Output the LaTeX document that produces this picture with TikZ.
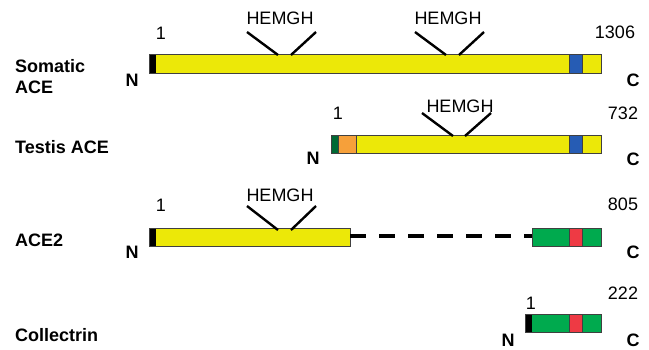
\documentclass[tikz,border=0pt]{standalone}
\usepackage{fontspec}
\setmainfont{Liberation Sans}
\begin{document}
\begin{tikzpicture}[x=1pt,y=-1pt,
  seg/.style={draw=black!75,line width=0.9pt},
  motif/.style={line width=2.4pt,black},
  txt/.style={inner sep=0pt,font=\fontsize{18}{21}\selectfont},
  lbl/.style={inner sep=0pt,font=\fontsize{18}{21}\selectfont\bfseries,align=left,anchor=west},
  term/.style={inner sep=0pt,font=\fontsize{18}{21}\selectfont\bfseries}]
\definecolor{bodyyellow}{RGB}{236,232,8}
\definecolor{tmblue}{RGB}{38,92,180}
\definecolor{domgreen}{RGB}{0,170,78}
\definecolor{domred}{RGB}{238,58,68}
\definecolor{sigorange}{RGB}{246,160,58}
\definecolor{sigdkgreen}{RGB}{0,105,52}
\useasboundingbox (0,0) rectangle (649,349);

% ---- Somatic ACE ----
\node[lbl] (somname) at (15,77) {Somatic\\ACE};
\fill[bodyyellow] (149,54) rectangle (601,73);
\fill[black] (149,54) rectangle (156,73);
\fill[tmblue] (569,54) rectangle (582,73);
\draw[seg] (569,54) -- (569,73) (582,54) -- (582,73);
\draw[seg] (149,54) rectangle (601,73);
\draw[motif] (247,32) -- (278,55) (291,55) -- (316,32);
\draw[motif] (415,32) -- (446,55) (459,55) -- (484,32);
\node[txt] (som1) at (280,18) {HEMGH};
\node[txt] (som2) at (448,18) {HEMGH};
\node[txt] (somstart) at (161,33) {1};
\node[txt] (somend) at (615,32) {1306};
\node[term] (somN) at (132,80) {N};
\node[term] (somC) at (633,80) {C};

% ---- Testis ACE ----
\node[lbl] (tesname) at (15,147) {Testis ACE};
\fill[bodyyellow] (331,135) rectangle (601,153);
\fill[sigdkgreen] (331,135) rectangle (338,153);
\fill[sigorange] (338,135) rectangle (356,153);
\fill[tmblue] (569,135) rectangle (582,153);
\draw[seg] (338,135) -- (338,153) (356,135) -- (356,153)
           (569,135) -- (569,153) (582,135) -- (582,153);
\draw[seg] (331,135) rectangle (601,153);
\draw[motif] (422,113) -- (453,136) (465,136) -- (491,113);
\node[txt] (tes1) at (460,106) {HEMGH};
\node[txt] (tesstart) at (338,113) {1};
\node[txt] (tesend) at (623,113) {732};
\node[term] (tesN) at (313,158) {N};
\node[term] (tesC) at (633,159) {C};

% ---- ACE2 ----
\node[lbl] (ace2name) at (15,240) {ACE2};
\fill[bodyyellow] (149,228) rectangle (350,246);
\fill[black] (149,228) rectangle (156,246);
\draw[seg] (149,228) rectangle (350,246);
\coordinate (gapL) at (350,236);
\coordinate (gapR) at (532,236);
\draw[line width=3.2pt,dash pattern=on 16pt off 13pt] (gapL) -- (gapR);
\fill[domgreen] (532,228) rectangle (601,246);
\fill[domred] (569,228) rectangle (582,246);
\draw[seg] (569,228) -- (569,246) (582,228) -- (582,246);
\draw[seg] (532,228) rectangle (601,246);
\draw[motif] (247,206) -- (278,230) (291,230) -- (316,206);
\node[txt] (ace2m) at (280,195) {HEMGH};
\node[txt] (ace2start) at (161,205) {1};
\node[txt] (ace2end) at (623,204) {805};
\node[term] (ace2N) at (132,252) {N};
\node[term] (ace2C) at (633,252) {C};

% ---- Collectrin ----
\node[lbl] (colname) at (15,335) {Collectrin};
\fill[domgreen] (525,314) rectangle (601,332);
\fill[black] (525,314) rectangle (532,332);
\fill[domred] (569,314) rectangle (582,332);
\draw[seg] (569,314) -- (569,332) (582,314) -- (582,332);
\draw[seg] (525,314) rectangle (601,332);
\node[txt] (colstart) at (531,303) {1};
\node[txt] (colend) at (623,293) {222};
\node[term] (colN) at (508,340) {N};
\node[term] (colC) at (633,340) {C};
\end{tikzpicture}
\end{document}
